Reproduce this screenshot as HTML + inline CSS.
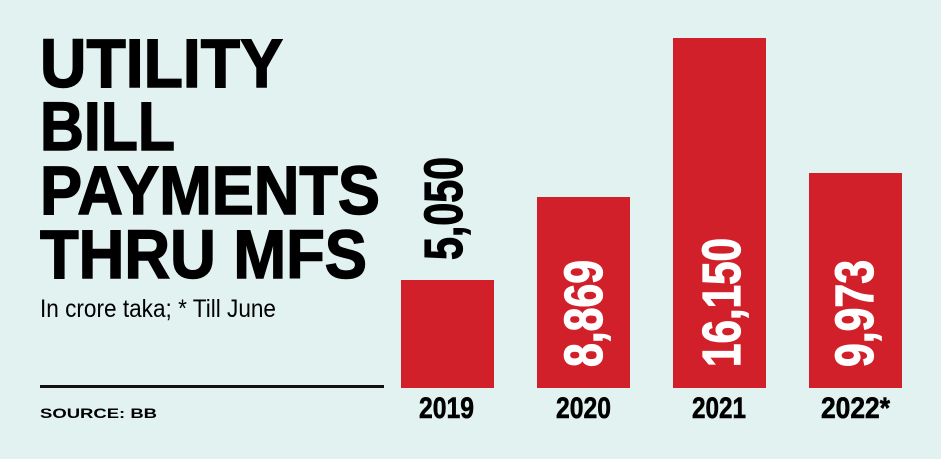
<!DOCTYPE html>
<html><head><meta charset="utf-8"><style>
html,body{margin:0;padding:0;background:#e1f2f0;}
svg{display:block;}
</style></head><body>
<svg width="941" height="459" viewBox="0 0 941 459" xmlns="http://www.w3.org/2000/svg">
<rect width="941" height="459" fill="#e1f2f0"/>
<g font-family="Liberation Sans, sans-serif" font-weight="bold" fill="#000" stroke="#000" stroke-width="1.5">
<text x="40" y="87" font-size="69" textLength="243" lengthAdjust="spacingAndGlyphs">UTILITY</text>
<text x="40" y="150" font-size="69" textLength="135" lengthAdjust="spacingAndGlyphs">BILL</text>
<text x="40" y="214" font-size="69" textLength="340" lengthAdjust="spacingAndGlyphs">PAYMENTS</text>
<text x="40" y="278" font-size="69" textLength="327" lengthAdjust="spacingAndGlyphs">THRU MFS</text>
</g>
<text x="40" y="317" font-family="Liberation Sans, sans-serif" font-size="25" textLength="236" lengthAdjust="spacingAndGlyphs" fill="#000">In crore taka; * Till June</text>
<rect x="40" y="385" width="344" height="3" fill="#111"/>
<text x="40" y="418" font-family="Liberation Sans, sans-serif" font-weight="bold" font-size="14" textLength="117" lengthAdjust="spacingAndGlyphs" fill="#000">SOURCE: BB</text>
<g fill="#d2202a">
<rect x="401" y="280" width="93" height="108"/>
<rect x="537" y="197" width="93" height="191"/>
<rect x="673" y="38" width="93" height="350"/>
<rect x="809" y="173" width="93" height="215"/>
</g>
<g font-family="Liberation Sans, sans-serif" font-weight="bold" font-size="54" stroke-width="1.2">
<text transform="translate(462,260) rotate(-90)" fill="#000" stroke="#000" textLength="103" lengthAdjust="spacingAndGlyphs">5,050</text>
<text transform="translate(602,367) rotate(-90)" fill="#fff" stroke="#fff" textLength="107" lengthAdjust="spacingAndGlyphs">8,869</text>
<text transform="translate(740,367) rotate(-90)" fill="#fff" stroke="#fff" textLength="129" lengthAdjust="spacingAndGlyphs">16,150</text>
<text transform="translate(873,367) rotate(-90)" fill="#fff" stroke="#fff" textLength="107" lengthAdjust="spacingAndGlyphs">9,973</text>
</g>
<g font-family="Liberation Sans, sans-serif" font-weight="bold" font-size="30" fill="#000" stroke="#000" stroke-width="0.6">
<text x="419" y="418" textLength="55" lengthAdjust="spacingAndGlyphs">2019</text>
<text x="556" y="418" textLength="55" lengthAdjust="spacingAndGlyphs">2020</text>
<text x="692" y="418" textLength="54" lengthAdjust="spacingAndGlyphs">2021</text>
<text x="821" y="418" textLength="69" lengthAdjust="spacingAndGlyphs">2022*</text>
</g>
</svg>
</body></html>
